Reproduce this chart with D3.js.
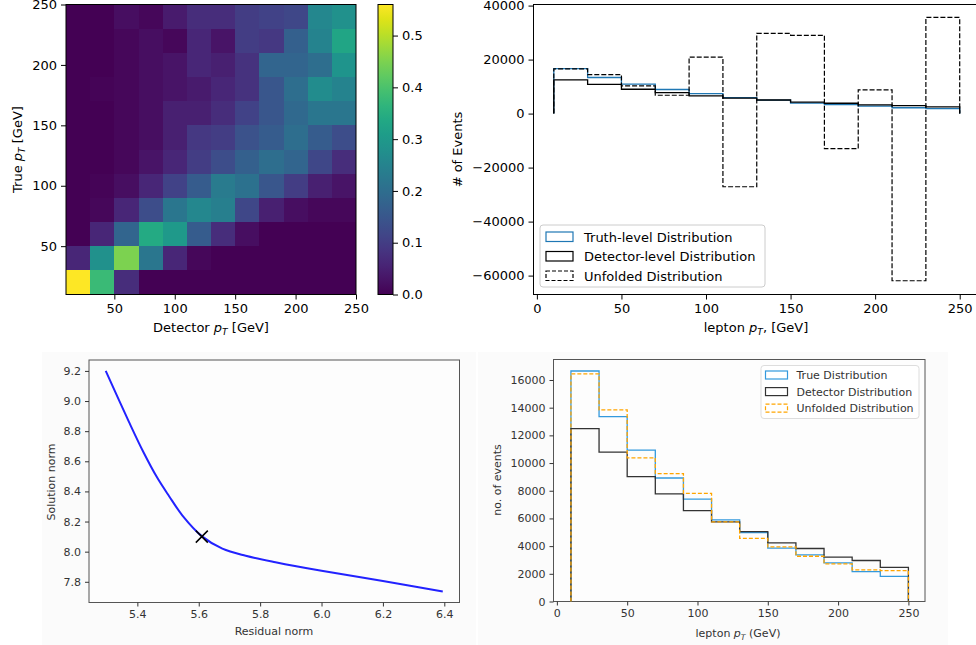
<!DOCTYPE html>
<html><head><meta charset="utf-8">
<script src="https://cdn.jsdelivr.net/npm/d3@7"></script>
<style>body{margin:0;background:#fff} svg{display:block;font-family:"DejaVu Sans",sans-serif}</style>
</head><body><svg id="c" width="976" height="645"></svg>
<script>
// ---------------- DATA ----------------
const ptEdges = [10,30,50,70,90,110,130,150,170,190,210,230,250];
const ptTicks = [50,100,150,200,250];
const ptTicksFull = [0,50,100,150,200,250];
// response matrix rows: true-pT bin (low->high), columns: detector-pT bin
const resp0  = [0.56,0.38,0.07,0.0,0.0,0.0,0.0,0.0,0.0,0.0,0.0,0.0];
const resp1  = [0.06,0.28,0.45,0.22,0.06,0.01,0.0,0.0,0.0,0.0,0.0,0.0];
const resp2  = [0.0,0.06,0.18,0.34,0.30,0.16,0.07,0.02,0.0,0.0,0.0,0.0];
const resp3  = [0.0,0.01,0.06,0.13,0.22,0.26,0.24,0.12,0.05,0.02,0.01,0.01];
const resp4  = [0.0,0.005,0.02,0.06,0.11,0.16,0.23,0.21,0.15,0.10,0.05,0.03];
const resp5  = [0.0,0.0,0.01,0.03,0.06,0.10,0.13,0.17,0.20,0.18,0.12,0.07];
const resp6  = [0.0,0.0,0.01,0.02,0.05,0.09,0.10,0.14,0.16,0.20,0.16,0.13];
const resp7  = [0.0,0.0,0.01,0.02,0.05,0.05,0.07,0.11,0.15,0.19,0.22,0.22];
const resp8  = [0.0,0.005,0.01,0.02,0.03,0.04,0.06,0.08,0.15,0.20,0.27,0.25];
const resp9  = [0.0,0.0,0.01,0.02,0.03,0.06,0.05,0.08,0.18,0.18,0.20,0.29];
const resp10 = [0.0,0.0,0.01,0.02,0.01,0.06,0.03,0.10,0.09,0.17,0.25,0.33];
const resp11 = [0.0,0.0,0.02,0.01,0.04,0.07,0.07,0.10,0.11,0.12,0.26,0.28];
const responseRows = [resp0,resp1,resp2,resp3,resp4,resp5,resp6,resp7,resp8,resp9,resp10,resp11];
const cbarTicks = [0.0,0.1,0.2,0.3,0.4,0.5];
const cbarMax = 0.56;

const truthCounts    = [16650,13360,10930,8920,7390,5890,4970,3860,3370,2790,2160,1820];
const detectorCounts = [12490,10790,9020,7780,6570,5750,5040,4240,3830,3200,2960,2470];
const unfoldedNaive  = [16550,14400,10250,6800,20900,-27100,29700,29000,-13000,8800,-61900,35600];
const unfoldedReg    = [16440,13840,10380,9240,7810,5750,4560,3950,3270,2720,2280,2230];
const naiveYTicks = [-60000,-40000,-20000,0,20000,40000];
const regYTicks = [0,2000,4000,6000,8000,10000,12000,14000,16000];

const residualNorm = [5.297,5.373,5.42,5.465,5.503,5.547,5.612,5.677,5.753,5.85,6.0,6.2,6.395];
const solutionNorm = [9.20,8.86,8.66,8.49,8.37,8.24,8.10,8.02,7.973,7.93,7.873,7.805,7.735];
const cornerPoint = [5.61, 8.10];
const lcXTicks = [5.4,5.6,5.8,6.0,6.2,6.4];
const lcYTicks = [7.8,8.0,8.2,8.4,8.6,8.8,9.0,9.2];

// ---------------- HELPERS ----------------
const svg = d3.select('#c');
function styleAxis(g, fs, col){
  g.select('.domain').remove();
  g.attr('font-family','DejaVu Sans').attr('font-size',fs);
  g.selectAll('text').attr('fill',col);
  g.selectAll('line').attr('stroke',col);
}
function stepPoints(vals){
  const pts=[[ptEdges[0],0]];
  vals.forEach((v,i)=>{pts.push([ptEdges[i],v]);pts.push([ptEdges[i+1],v]);});
  pts.push([ptEdges[ptEdges.length-1],0]);
  return pts;
}
function ptText(g, x, y, pre, post, fs, col, rot){
  const t = g.append('text').attr('x',x).attr('y',y).attr('text-anchor','middle')
    .attr('font-size',fs).attr('fill',col);
  if(rot) t.attr('transform',`rotate(-90,${x},${y})`);
  t.append('tspan').text(pre);
  t.append('tspan').attr('font-style','italic').text('p');
  t.append('tspan').attr('font-style','italic').attr('font-size',fs*0.7).attr('dy',fs*0.25).text('T');
  t.append('tspan').attr('dy',-fs*0.25).text(post);
  return t;
}
function fmtFixed1(d){return d3.format('.1f')(d);}

// ---------------- PANEL 1: response heatmap ----------------
(function(){
  const g = svg.append('g');
  const x = d3.scaleLinear().domain([10,250]).range([66,356]);
  const y = d3.scaleLinear().domain([10,250]).range([294.5,4.5]);
  const color = d3.scaleSequential(d3.interpolateViridis).domain([0,cbarMax]);
  const cells = g.append('g').attr('shape-rendering','crispEdges');
  responseRows.forEach((row,i)=>{
    cells.selectAll(null).data(row).enter().append('rect')
      .attr('x',(d,j)=>x(ptEdges[j])).attr('width',(d,j)=>x(ptEdges[j+1])-x(ptEdges[j]))
      .attr('y',y(ptEdges[i+1])).attr('height',y(ptEdges[i])-y(ptEdges[i+1]))
      .attr('fill',d=>color(d));
  });
  g.append('rect').attr('x',66).attr('y',4.5).attr('width',290).attr('height',290)
    .attr('fill','none').attr('stroke','#000').attr('stroke-width',1);
  const ax = g.append('g').attr('transform','translate(0,294.5)')
    .call(d3.axisBottom(x).tickValues(ptTicks).tickSize(5).tickPadding(4).tickFormat(d3.format('d')));
  styleAxis(ax,13,'#000');
  const ay = g.append('g').attr('transform','translate(66,0)')
    .call(d3.axisLeft(y).tickValues(ptTicks).tickSize(5).tickPadding(4).tickFormat(d3.format('d')));
  styleAxis(ay,13,'#000');
  ptText(g,211,332,'Detector ',' [GeV]',13,'#000',false);
  ptText(g,22,149.5,'True ',' [GeV]',13,'#000',true);

  // colorbar
  const cy = d3.scaleLinear().domain([0,cbarMax]).range([294.5,4.5]);
  const defs = svg.append('defs');
  const grad = defs.append('linearGradient').attr('id','vir').attr('x1',0).attr('y1',1).attr('x2',0).attr('y2',0);
  d3.range(0,1.0001,0.05).forEach(t=>grad.append('stop').attr('offset',t).attr('stop-color',d3.interpolateViridis(t)));
  g.append('rect').attr('x',378).attr('y',4.5).attr('width',15).attr('height',290).attr('fill','url(#vir)')
    .attr('stroke','#000').attr('stroke-width',1);
  const ac = g.append('g').attr('transform','translate(393,0)')
    .call(d3.axisRight(cy).tickValues(cbarTicks).tickSize(5).tickPadding(4).tickFormat(fmtFixed1));
  styleAxis(ac,13,'#000');
})();

// ---------------- PANEL 2: naive unfolding ----------------
(function(){
  const g = svg.append('g');
  const x = d3.scaleLinear().domain([-2,262]).range([533.5,980]);
  const y = d3.scaleLinear().domain([-67000,40400]).range([294.5,4.5]);
  const line = d3.line().x(d=>x(d[0])).y(d=>y(d[1]));
  g.append('path').attr('d',line(stepPoints(truthCounts))).attr('fill','none').attr('stroke','#1f77b4').attr('stroke-width',1.3);
  g.append('path').attr('d',line(stepPoints(detectorCounts))).attr('fill','none').attr('stroke','#000').attr('stroke-width',1.3);
  g.append('path').attr('d',line(stepPoints(unfoldedNaive))).attr('fill','none').attr('stroke','#000').attr('stroke-width',1.2).attr('stroke-dasharray','5,2');
  g.append('rect').attr('x',533.5).attr('y',4.5).attr('width',446.5).attr('height',290)
    .attr('fill','none').attr('stroke','#000').attr('stroke-width',1);
  const ax = g.append('g').attr('transform','translate(0,294.5)')
    .call(d3.axisBottom(x).tickValues(ptTicksFull).tickSize(5).tickPadding(4).tickFormat(d3.format('d')));
  styleAxis(ax,13,'#000');
  const ay = g.append('g').attr('transform','translate(533.5,0)')
    .call(d3.axisLeft(y).tickValues(naiveYTicks).tickSize(5).tickPadding(4).tickFormat(d3.format('d')));
  styleAxis(ay,13,'#000');
  g.append('text').attr('x',462).attr('y',149.5).attr('transform','rotate(-90,462,149.5)')
    .attr('text-anchor','middle').attr('font-size',13).attr('fill','#000').text('# of Events');
  ptText(g,756,332,'lepton ',', [GeV]',13,'#000',false);
  // legend
  const lg = g.append('g');
  lg.append('rect').attr('x',540).attr('y',225).attr('width',225).attr('height',62).attr('rx',3)
    .attr('fill','#fff').attr('fill-opacity',0.8).attr('stroke','#ccc');
  const items = [['Truth-level Distribution','#1f77b4',null],['Detector-level Distribution','#000',null],['Unfolded Distribution','#000','4,2']];
  items.forEach((it,i)=>{
    const yy = 232 + i*19.5;
    const r = lg.append('rect').attr('x',546).attr('y',yy).attr('width',27).attr('height',9.5)
      .attr('fill','none').attr('stroke',it[1]).attr('stroke-width',1.2);
    if(it[2]) r.attr('stroke-dasharray',it[2]);
    lg.append('text').attr('x',584).attr('y',yy+9.5).attr('font-size',13).attr('fill','#000').text(it[0]);
  });
})();

// ---------------- PANEL 3: L-curve ----------------
(function(){
  const g = svg.append('g');
  g.append('rect').attr('x',42).attr('y',352).attr('width',434).attr('height',293).attr('fill','#fbfbfb');
  const x = d3.scaleLinear().domain([5.2425,6.4495]).range([89,459.5]);
  const y = d3.scaleLinear().domain([7.6625,9.2725]).range([602.5,360]);
  g.append('rect').attr('x',89).attr('y',360).attr('width',370.5).attr('height',242.5)
    .attr('fill','#fdfdfd').attr('stroke','#555').attr('stroke-width',1);
  const line = d3.line().x((d,i)=>x(residualNorm[i])).y(d=>y(d)).curve(d3.curveCatmullRom.alpha(0.5));
  g.append('path').attr('d',line(solutionNorm)).attr('fill','none').attr('stroke','#2222ff').attr('stroke-width',2);
  const cx = x(cornerPoint[0]), cyy = y(cornerPoint[1]);
  g.append('path').attr('d',`M${cx-6},${cyy-6}L${cx+6},${cyy+6}M${cx-6},${cyy+6}L${cx+6},${cyy-6}`)
    .attr('stroke','#000').attr('stroke-width',1.5);
  const ax = g.append('g').attr('transform','translate(0,602.5)')
    .call(d3.axisBottom(x).tickValues(lcXTicks).tickSize(4).tickPadding(4).tickFormat(fmtFixed1));
  styleAxis(ax,11,'#333');
  const ay = g.append('g').attr('transform','translate(89,0)')
    .call(d3.axisLeft(y).tickValues(lcYTicks).tickSize(4).tickPadding(4).tickFormat(fmtFixed1));
  styleAxis(ay,11,'#333');
  g.append('text').attr('x',274).attr('y',635).attr('text-anchor','middle').attr('font-size',11).attr('fill','#333').text('Residual norm');
  g.append('text').attr('x',55).attr('y',482).attr('transform','rotate(-90,55,482)')
    .attr('text-anchor','middle').attr('font-size',11).attr('fill','#333').text('Solution norm');
})();

// ---------------- PANEL 4: regularised unfolding ----------------
(function(){
  const g = svg.append('g');
  g.append('rect').attr('x',478).attr('y',352).attr('width',470).attr('height',293).attr('fill','#fbfbfb');
  const x = d3.scaleLinear().domain([-2.4,261.8]).range([553.5,925]);
  const y = d3.scaleLinear().domain([0,17480]).range([601.5,359.5]);
  g.append('rect').attr('x',553.5).attr('y',359.5).attr('width',371.5).attr('height',242)
    .attr('fill','#fdfdfd').attr('stroke','#555').attr('stroke-width',1);
  const line = d3.line().x(d=>x(d[0])).y(d=>y(d[1]));
  g.append('path').attr('d',line(stepPoints(truthCounts))).attr('fill','none').attr('stroke','#3399dd').attr('stroke-width',1.3);
  g.append('path').attr('d',line(stepPoints(detectorCounts))).attr('fill','none').attr('stroke','#333').attr('stroke-width',1.3);
  g.append('path').attr('d',line(stepPoints(unfoldedReg))).attr('fill','none').attr('stroke','#ffa500').attr('stroke-width',1.3).attr('stroke-dasharray','4,2');
  const ax = g.append('g').attr('transform','translate(0,601.5)')
    .call(d3.axisBottom(x).tickValues(ptTicksFull).tickSize(4).tickPadding(4).tickFormat(d3.format('d')));
  styleAxis(ax,11,'#333');
  const ay = g.append('g').attr('transform','translate(553.5,0)')
    .call(d3.axisLeft(y).tickValues(regYTicks).tickSize(4).tickPadding(4).tickFormat(d3.format('d')));
  styleAxis(ay,11,'#333');
  ptText(g,738,637,'lepton ',' (GeV)',11,'#333',false);
  g.append('text').attr('x',501).attr('y',480).attr('transform','rotate(-90,501,480)')
    .attr('text-anchor','middle').attr('font-size',11).attr('fill','#333').text('no. of events');
  const lg = g.append('g');
  lg.append('rect').attr('x',761).attr('y',365.5).attr('width',158).attr('height',53).attr('rx',3)
    .attr('fill','#fff').attr('fill-opacity',0.8).attr('stroke','#ddd');
  const items = [['True Distribution','#3399dd',null],['Detector Distribution','#333',null],['Unfolded Distribution','#ffa500','4,2']];
  items.forEach((it,i)=>{
    const yy = 371 + i*16.6;
    const r = lg.append('rect').attr('x',765.5).attr('y',yy).attr('width',22).attr('height',8)
      .attr('fill','none').attr('stroke',it[1]).attr('stroke-width',1.2);
    if(it[2]) r.attr('stroke-dasharray',it[2]);
    lg.append('text').attr('x',796.5).attr('y',yy+8).attr('font-size',11).attr('fill','#333').text(it[0]);
  });
})();
</script></body></html>
